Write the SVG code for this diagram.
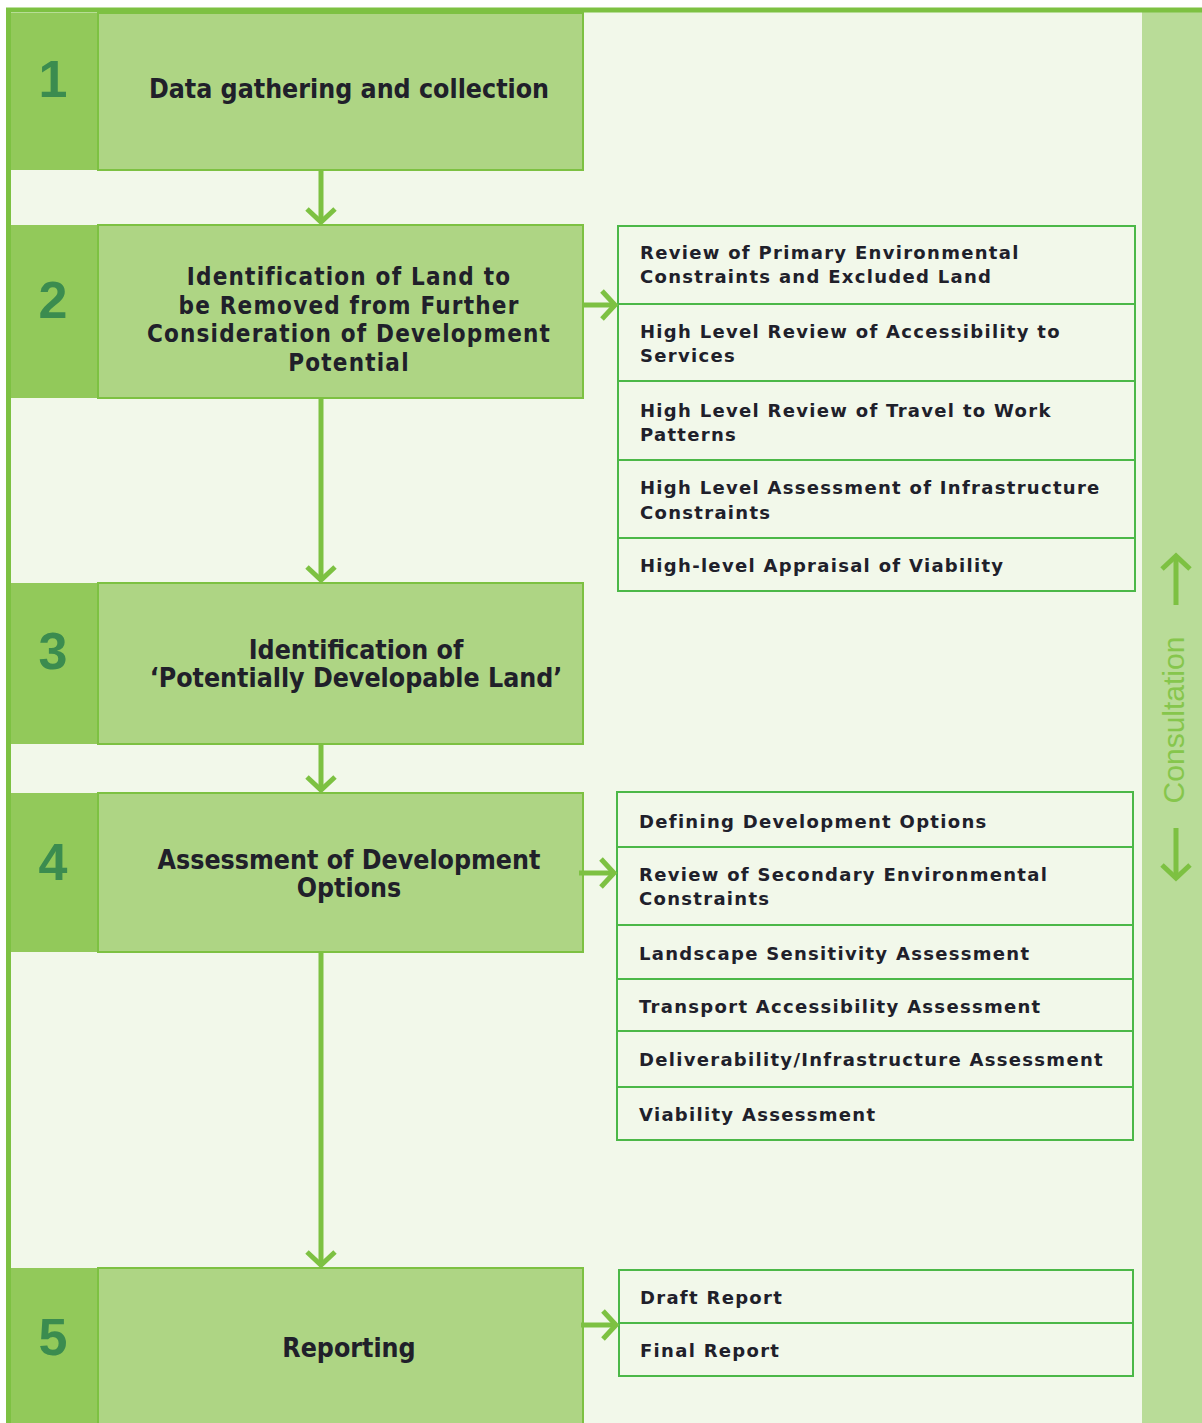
<svg xmlns="http://www.w3.org/2000/svg" width="1202" height="1423" viewBox="0 0 1202 1423">
<style>
.num{font-family:"Liberation Sans Narrow","Liberation Sans",Arial,sans-serif;font-weight:bold;font-size:52px;fill:#3b8c4f;text-anchor:middle}
.main{font-family:"DejaVu Sans Condensed","DejaVu Sans",sans-serif;font-weight:bold;font-size:26.5px;fill:#20202a;text-anchor:middle}
.tight{font-size:24px;letter-spacing:1.2px}
.sub{font-family:"DejaVu Sans","Verdana",sans-serif;font-weight:bold;font-size:18px;fill:#20202a;letter-spacing:1.3px}
.numcol{fill:#92c95a}
.box{fill:#aed584;stroke:#7dc142;stroke-width:2}
.sbox{fill:#f2f8ea;stroke:#4cb848;stroke-width:2}
.div{stroke:#4cb848;stroke-width:2}
.arr{stroke:#7dc142;stroke-width:5;fill:none}
</style>
<defs>
<marker id="chev" markerUnits="userSpaceOnUse" markerWidth="32" markerHeight="32" viewBox="0 0 32 32" refX="16" refY="16" orient="auto">
<path d="M3,2 L16,16 L3,30" fill="none" stroke="#7dc142" stroke-width="5"/>
</marker>
</defs>
<rect x="0" y="0" width="1202" height="1423" fill="#ffffff"/>
<rect x="9" y="10" width="1193" height="1413" fill="#f2f8ea"/>
<rect x="1142" y="12" width="60" height="1411" fill="#b9dc98"/>
<line x1="6" y1="10" x2="1202" y2="10" stroke="#7dc142" stroke-width="5"/>
<line x1="8.5" y1="8" x2="8.5" y2="1423" stroke="#7dc142" stroke-width="5"/>

<g id="step1">
<rect class="numcol" x="11" y="13" width="87" height="157"/>
<rect class="box" x="98" y="13" width="485" height="157"/>
<text class="num" x="53" y="97">1</text>
<text class="main" x="349" y="98">Data gathering and collection</text>
</g>
<g id="step2">
<rect class="numcol" x="11" y="225" width="87" height="173"/>
<rect class="box" x="98" y="225" width="485" height="173"/>
<text class="num" x="53" y="318">2</text>
<text class="main tight" x="349" y="285">Identification of Land to</text>
<text class="main tight" x="349" y="313.5">be Removed from Further</text>
<text class="main tight" x="349" y="342">Consideration of Development</text>
<text class="main tight" x="349" y="370.5">Potential</text>
</g>
<g id="step3">
<rect class="numcol" x="11" y="583" width="87" height="161"/>
<rect class="box" x="98" y="583" width="485" height="161"/>
<text class="num" x="53" y="669">3</text>
<text class="main" x="356" y="659">Identification of</text>
<text class="main" x="356" y="687">‘Potentially Developable Land’</text>
</g>
<g id="step4">
<rect class="numcol" x="11" y="793" width="87" height="159"/>
<rect class="box" x="98" y="793" width="485" height="159"/>
<text class="num" x="53" y="880">4</text>
<text class="main" x="349" y="869">Assessment of Development</text>
<text class="main" x="349" y="897">Options</text>
</g>
<g id="step5">
<rect class="numcol" x="11" y="1268" width="87" height="160"/>
<rect class="box" x="98" y="1268" width="485" height="160"/>
<text class="num" x="53" y="1355">5</text>
<text class="main" x="349" y="1357">Reporting</text>
</g>

<g id="tasks2">
<rect class="sbox" x="618" y="226" width="517" height="365"/>
<line class="div" x1="618" y1="304" x2="1135" y2="304"/>
<line class="div" x1="618" y1="381" x2="1135" y2="381"/>
<line class="div" x1="618" y1="460" x2="1135" y2="460"/>
<line class="div" x1="618" y1="538" x2="1135" y2="538"/>
<text class="sub" x="640" y="259">Review of Primary Environmental</text>
<text class="sub" x="640" y="283">Constraints and Excluded Land</text>
<text class="sub" x="640" y="338">High Level Review of Accessibility to</text>
<text class="sub" x="640" y="362">Services</text>
<text class="sub" x="640" y="417">High Level Review of Travel to Work</text>
<text class="sub" x="640" y="441">Patterns</text>
<text class="sub" x="640" y="494">High Level Assessment of Infrastructure</text>
<text class="sub" x="640" y="519">Constraints</text>
<text class="sub" x="640" y="572">High-level Appraisal of Viability</text>
</g>
<g id="tasks4">
<rect class="sbox" x="617" y="792" width="516" height="348"/>
<line class="div" x1="617" y1="847" x2="1133" y2="847"/>
<line class="div" x1="617" y1="925" x2="1133" y2="925"/>
<line class="div" x1="617" y1="979" x2="1133" y2="979"/>
<line class="div" x1="617" y1="1031" x2="1133" y2="1031"/>
<line class="div" x1="617" y1="1087" x2="1133" y2="1087"/>
<text class="sub" x="639" y="828">Defining Development Options</text>
<text class="sub" x="639" y="881">Review of Secondary Environmental</text>
<text class="sub" x="639" y="905">Constraints</text>
<text class="sub" x="639" y="960">Landscape Sensitivity Assessment</text>
<text class="sub" x="639" y="1013">Transport Accessibility Assessment</text>
<text class="sub" x="639" y="1066">Deliverability/Infrastructure Assessment</text>
<text class="sub" x="639" y="1121">Viability Assessment</text>
</g>
<g id="tasks5">
<rect class="sbox" x="619" y="1270" width="514" height="106"/>
<line class="div" x1="619" y1="1323" x2="1133" y2="1323"/>
<text class="sub" x="640" y="1304">Draft Report</text>
<text class="sub" x="640" y="1357">Final Report</text>
</g>
<g id="consultation">
<text x="1184" y="720" transform="rotate(-90 1184 720)" font-family="'Liberation Sans',Arial,sans-serif" font-size="30" fill="#86c64c" text-anchor="middle">Consultation</text>
</g>

<g id="connectors">
<line class="arr" x1="321" y1="170" x2="321" y2="222" marker-end="url(#chev)"/>
<line class="arr" x1="321" y1="398" x2="321" y2="580" marker-end="url(#chev)"/>
<line class="arr" x1="321" y1="744" x2="321" y2="790" marker-end="url(#chev)"/>
<line class="arr" x1="321" y1="952" x2="321" y2="1265" marker-end="url(#chev)"/>
<line class="arr" x1="583" y1="305" x2="615" y2="305" marker-end="url(#chev)"/>
<line class="arr" x1="579" y1="873" x2="614" y2="873" marker-end="url(#chev)"/>
<line class="arr" x1="581" y1="1325" x2="616" y2="1325" marker-end="url(#chev)"/>
<line class="arr" x1="1176" y1="605" x2="1176" y2="556" marker-end="url(#chev)"/>
<line class="arr" x1="1176" y1="828" x2="1176" y2="878" marker-end="url(#chev)"/>
</g>
</svg>
